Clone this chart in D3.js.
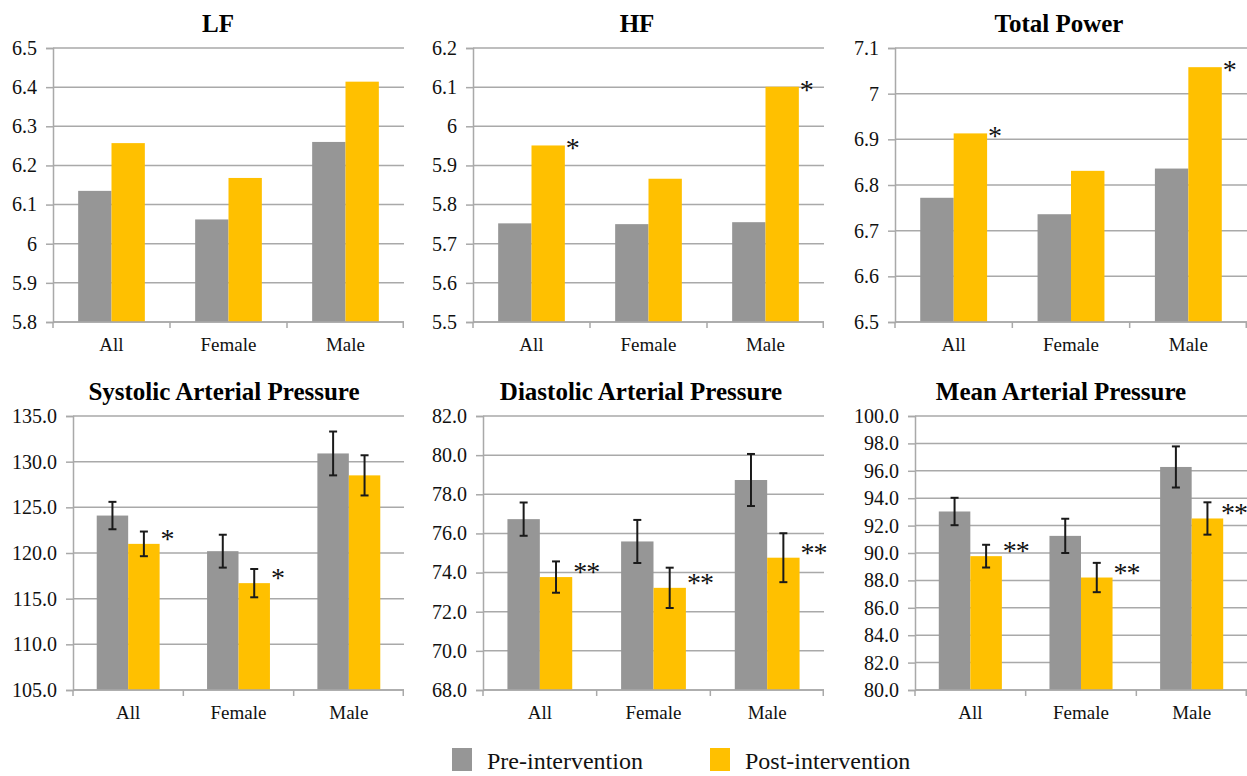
<!DOCTYPE html>
<html>
<head>
<meta charset="utf-8">
<script src="https://cdn.jsdelivr.net/npm/d3@7"></script>
<style>
  body { margin: 0; background: #fff; }
  svg, svg text { font-family: "Liberation Serif", "Times New Roman", serif; }
</style>
</head>
<body>
<svg id="chart" width="1247" height="776"></svg>
<script>
// categories and series
var categories = ["All", "Female", "Male"];
var seriesNames = ["Pre-intervention", "Post-intervention"];

var lfPre = [6.135, 6.062, 6.260];
var lfPost = [6.257, 6.168, 6.414];
var lfSig = ["", "", ""];

var hfPre = [5.752, 5.750, 5.755];
var hfPost = [5.951, 5.866, 6.101];
var hfSig = ["*", "", "*"];

var tpPre = [6.772, 6.736, 6.836];
var tpPost = [6.913, 6.831, 7.058];
var tpSig = ["*", "", "*"];

var sapPre = [124.1, 120.2, 130.9];
var sapPreErr = [1.5, 1.8, 2.4];
var sapPost = [121.0, 116.7, 128.5];
var sapPostErr = [1.35, 1.55, 2.2];
var sapSig = ["*", "*", ""];

var dapPre = [76.73, 75.59, 78.73];
var dapPreErr = [0.85, 1.1, 1.33];
var dapPost = [73.77, 73.22, 74.76];
var dapPostErr = [0.8, 1.03, 1.25];
var dapSig = ["**", "**", "**"];

var mapPre = [93.03, 91.25, 96.28];
var mapPreErr = [1.0, 1.25, 1.5];
var mapPost = [89.77, 88.21, 92.52];
var mapPostErr = [0.83, 1.07, 1.18];
var mapSig = ["**", "**", "**"];

// tick labels
var lfTicks = [5.8, 5.9, 6, 6.1, 6.2, 6.3, 6.4, 6.5];
var hfTicks = [5.5, 5.6, 5.7, 5.8, 5.9, 6, 6.1, 6.2];
var tpTicks = [6.5, 6.6, 6.7, 6.8, 6.9, 7, 7.1];
var sapTicks = [105, 110, 115, 120, 125, 130, 135];
var dapTicks = [68, 70, 72, 74, 76, 78, 80, 82];
var mapTicks = [80, 82, 84, 86, 88, 90, 92, 94, 96, 98, 100];

var grey = "#969696", gold = "#ffc000", lineCol = "#a9a9a9";
var W = 1247;

var panels = [
    {title: "LF", pre: lfPre, post: lfPost, sig: lfSig, ticks: lfTicks, fmt: d3.format(""),
        left: 53, right: 404, top: 48, bottom: 322, titleX: 218},
    {title: "HF", pre: hfPre, post: hfPost, sig: hfSig, ticks: hfTicks, fmt: d3.format(""),
        left: 473, right: 824, top: 48, bottom: 322, titleX: 637},
    {title: "Total Power", pre: tpPre, post: tpPost, sig: tpSig, ticks: tpTicks, fmt: d3.format(""),
        left: 895, right: 1247, top: 48, bottom: 322, titleX: 1059},
    {title: "Systolic Arterial Pressure", pre: sapPre, post: sapPost, preErr: sapPreErr, postErr: sapPostErr,
        sig: sapSig, ticks: sapTicks, fmt: d3.format(".1f"), left: 73, right: 404, top: 416, bottom: 690, titleX: 224},
    {title: "Diastolic Arterial Pressure", pre: dapPre, post: dapPost, preErr: dapPreErr, postErr: dapPostErr,
        sig: dapSig, ticks: dapTicks, fmt: d3.format(".1f"), left: 483, right: 824, top: 416, bottom: 690, titleX: 641},
    {title: "Mean Arterial Pressure", pre: mapPre, post: mapPost, preErr: mapPreErr, postErr: mapPostErr,
        sig: mapSig, ticks: mapTicks, fmt: d3.format(".1f"), left: 915, right: 1247, top: 416, bottom: 690, titleX: 1061}
];

var svg = d3.select("#chart");

panels.forEach(function (p) {
    var g = svg.append("g");

    var x0 = d3.scaleBand().domain(categories).range([p.left, p.right]).padding(0);
    var bw = x0.bandwidth();
    var x1 = d3.scaleBand().domain([0, 1]).range([bw * 0.215, bw * 0.785]).padding(0);
    var y = d3.scaleLinear()
        .domain([p.ticks[0], p.ticks[p.ticks.length - 1]])
        .range([p.bottom, p.top]);

    // gridlines
    g.selectAll(".grid").data(p.ticks).enter().append("line")
        .attr("x1", p.left).attr("x2", p.right)
        .attr("y1", function (d) { return y(d); })
        .attr("y2", function (d) { return y(d); })
        .attr("stroke", lineCol).attr("stroke-width", 1.5);

    // y axis
    var yAxis = d3.axisLeft(y).tickValues(p.ticks).tickFormat(p.fmt).tickSize(7).tickPadding(9);
    var ya = g.append("g").attr("transform", "translate(" + p.left + ",0)").call(yAxis)
        .attr("font-family", "Liberation Serif").attr("font-size", 20);
    ya.select(".domain").attr("stroke", lineCol).attr("stroke-width", 1.5);
    ya.selectAll(".tick line").attr("stroke", lineCol).attr("stroke-width", 1.5);
    ya.selectAll(".tick text").attr("fill", "#111");

    // bars
    var data = categories.map(function (c, i) {
        return [
            {cat: c, s: 0, v: p.pre[i], e: p.preErr ? p.preErr[i] : null},
            {cat: c, s: 1, v: p.post[i], e: p.postErr ? p.postErr[i] : null, sig: p.sig[i]}
        ];
    });
    var grp = g.selectAll(".grp").data(data).enter().append("g")
        .attr("transform", function (d) { return "translate(" + x0(d[0].cat) + ",0)"; });

    grp.selectAll("rect").data(function (d) { return d; }).enter().append("rect")
        .attr("x", function (d) { return x1(d.s); })
        .attr("width", x1.bandwidth())
        .attr("y", function (d) { return y(d.v); })
        .attr("height", function (d) { return p.bottom - y(d.v); })
        .attr("fill", function (d) { return d.s === 0 ? grey : gold; });

    // x axis
    var xa = g.append("g").attr("transform", "translate(0," + p.bottom + ")");
    xa.append("line").attr("x1", p.left).attr("x2", p.right)
        .attr("stroke", lineCol).attr("stroke-width", 1.5);
    xa.selectAll(".xt").data(categories.concat(["end"])).enter().append("line")
        .attr("x1", function (d, i) { return i < 3 ? x0(d) : p.right - 0.75; })
        .attr("x2", function (d, i) { return i < 3 ? x0(d) : p.right - 0.75; })
        .attr("y1", 0).attr("y2", 6)
        .attr("stroke", lineCol).attr("stroke-width", 1.5);
    xa.selectAll(".xl").data(categories).enter().append("text")
        .attr("x", function (d) { return x0(d) + bw / 2; })
        .attr("y", 29)
        .attr("text-anchor", "middle")
        .attr("font-size", 19).attr("fill", "#111")
        .text(function (d) { return d; });

    // error bars
    var eb = grp.selectAll(".err").data(function (d) { return d.filter(function (b) { return b.e != null; }); })
        .enter().append("g").attr("stroke", "#1a1a1a").attr("stroke-width", 2);
    eb.append("line")
        .attr("x1", function (d) { return x1(d.s) + x1.bandwidth() / 2; })
        .attr("x2", function (d) { return x1(d.s) + x1.bandwidth() / 2; })
        .attr("y1", function (d) { return y(d.v + d.e); })
        .attr("y2", function (d) { return y(d.v - d.e); });
    [1, -1].forEach(function (k) {
        eb.append("line")
            .attr("x1", function (d) { return x1(d.s) + x1.bandwidth() / 2 - 4; })
            .attr("x2", function (d) { return x1(d.s) + x1.bandwidth() / 2 + 4; })
            .attr("y1", function (d) { return y(d.v + k * d.e); })
            .attr("y2", function (d) { return y(d.v + k * d.e); });
    });

    // significance markers
    grp.append("text")
        .attr("x", function (d) {
            var sx = x1(1) + x1.bandwidth() + 1;
            var tw = d[1].sig.length * 13;
            return Math.min(sx, W - x0(d[0].cat) - tw);
        })
        .attr("y", function (d) { return y(d[1].v) + (p.postErr ? 4 : 12); })
        .attr("font-size", 28).attr("fill", "#111")
        .attr("letter-spacing", -1)
        .text(function (d) { return d[1].sig; });

    // title
    g.append("text")
        .attr("x", p.titleX).attr("y", p.top - 16)
        .attr("text-anchor", "middle")
        .attr("font-size", 25).attr("font-weight", "bold")
        .text(p.title);
});

// legend
var legendX = [452, 710];
var leg = svg.selectAll(".leg").data(seriesNames).enter().append("g")
    .attr("transform", function (d, i) { return "translate(" + legendX[i] + ",748)"; });
leg.append("rect").attr("width", 20).attr("height", 23)
    .attr("fill", function (d, i) { return i === 0 ? grey : gold; });
leg.append("text").attr("x", 35).attr("y", 21)
    .attr("font-size", 24).attr("fill", "#111")
    .text(function (d) { return d; });
</script>
</body>
</html>
